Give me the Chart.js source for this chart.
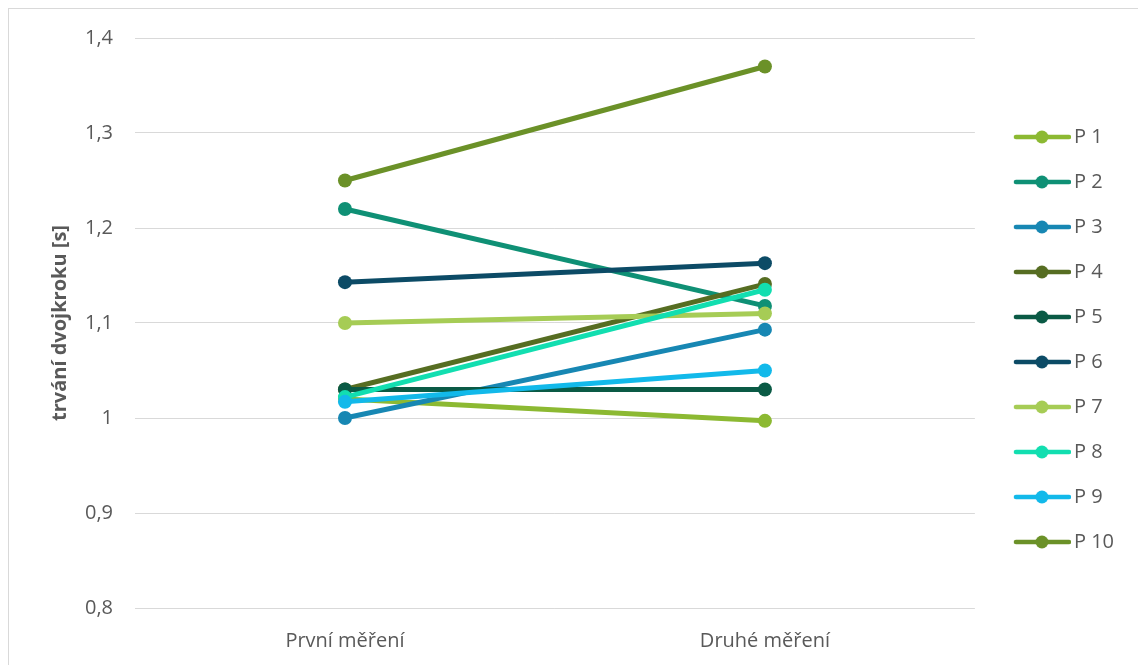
<!DOCTYPE html>
<html>
<head>
<meta charset="utf-8">
<script src="https://cdn.jsdelivr.net/npm/chart.js@4/dist/chart.umd.min.js"></script>
<style>
  html, body { margin: 0; padding: 0; background: #ffffff; }
  #wrap { position: relative; width: 1138px; height: 665px; overflow: hidden; }
  #frame { position: absolute; left: 8px; top: 8px; width: 1200px; height: 700px; border: 1px solid #d9d9d9; box-sizing: border-box; }
  #c { position: absolute; left: 0; top: 0; }
</style>
</head>
<body>
<div id="wrap">
  <div id="frame"></div>
  <canvas id="c" width="1138" height="665"></canvas>
</div>
<script>
const categories = ['První měření', 'Druhé měření'];
const seriesNames = ['P 1', 'P 2', 'P 3', 'P 4', 'P 5', 'P 6', 'P 7', 'P 8', 'P 9', 'P 10'];
const firstMeasurement  = [1.02, 1.22, 1.00, 1.03, 1.03, 1.143, 1.10, 1.022, 1.017, 1.25];
const secondMeasurement = [0.997, 1.118, 1.093, 1.141, 1.03, 1.163, 1.11, 1.135, 1.05, 1.37];
const seriesColors = ['#8CB932', '#0F9075', '#1787B3', '#566D22', '#0A5A45', '#0C4B66', '#A6CC55', '#12DEB0', '#12B9EA', '#6B9128'];
const yTickLabels = ['0,8', '0,9', '1', '1,1', '1,2', '1,3', '1,4'];
const yTickValues = [0.8, 0.9, 1.0, 1.1, 1.2, 1.3, 1.4];

const FONT = "'Open Sans', sans-serif";
const TEXT = '#595959';

function legendIcon(color) {
  const cv = document.createElement('canvas');
  cv.width = 78; cv.height = 16;
  const g = cv.getContext('2d');
  g.strokeStyle = color;
  g.lineWidth = 4.5;
  g.lineCap = 'round';
  g.beginPath(); g.moveTo(23, 8); g.lineTo(76, 8); g.stroke();
  g.fillStyle = color;
  g.beginPath(); g.arc(49, 8, 6.5, 0, Math.PI * 2); g.fill();
  return cv;
}
const icons = seriesColors.map(legendIcon);

// build datasets in reverse so that later series are drawn on top
const datasets = [];
for (let i = seriesNames.length - 1; i >= 0; i--) {
  datasets.push({
    label: seriesNames[i],
    data: [firstMeasurement[i], secondMeasurement[i]],
    borderColor: seriesColors[i],
    backgroundColor: seriesColors[i],
    pointBackgroundColor: seriesColors[i],
    pointBorderColor: seriesColors[i],
    borderWidth: 5,
    pointRadius: 7,
    pointHoverRadius: 7,
    pointBorderWidth: 0,
    tension: 0,
    fill: false,
    seriesIndex: i
  });
}

new Chart(document.getElementById('c'), {
  type: 'line',
  data: { labels: categories, datasets: datasets },
  options: {
    responsive: false,
    animation: false,
    layout: { padding: { top: 38, right: 14, bottom: 0, left: 0 } },
    plugins: {
      tooltip: { enabled: false },
      legend: {
        position: 'right',
        align: 'start',
        reverse: true,
        title: { display: true, text: '', font: { size: 10 }, padding: { top: 0, bottom: 52 } },
        labels: {
          color: TEXT,
          font: { family: FONT, size: 20 },
          padding: 25,
          usePointStyle: true,
          pointStyleWidth: 64,
          generateLabels: function(chart) {
            const items = Chart.defaults.plugins.legend.labels.generateLabels(chart);
            items.forEach(it => {
              const ds = chart.data.datasets[it.datasetIndex];
              it.pointStyle = icons[ds.seriesIndex];
              it.fontColor = TEXT;
            });
            return items;
          }
        }
      }
    },
    scales: {
      x: {
        offset: true,
        grid: { display: false },
        border: { display: false },
        ticks: { color: TEXT, font: { family: FONT, size: 20 }, padding: 13, maxRotation: 0 },
        afterFit: function(s) { s.height = 57; }
      },
      y: {
        min: 0.8,
        max: 1.4,
        afterBuildTicks: function(s) { s.ticks = yTickValues.map(v => ({ value: v })); },
        grid: { color: '#d9d9d9', lineWidth: 1, drawTicks: false },
        border: { display: false },
        ticks: {
          color: TEXT,
          font: { family: FONT, size: 20 },
          padding: 22,
          callback: function(value, index) { return yTickLabels[index]; }
        },
        title: {
          display: true,
          text: 'trvání dvojkroku [s]',
          color: TEXT,
          font: { family: FONT, size: 20, weight: 'bold' },
          padding: { top: 48, bottom: 0 }
        },
        afterFit: function(s) { s.width = 135; }
      }
    }
  }
});
</script>
</body>
</html>
